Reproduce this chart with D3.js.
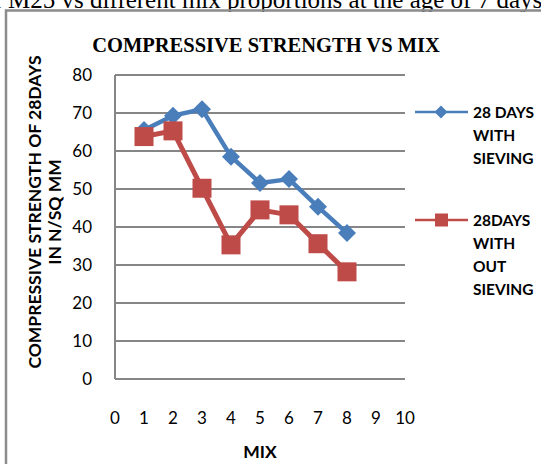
<!DOCTYPE html>
<html><head><meta charset="utf-8">
<script src="https://cdn.jsdelivr.net/npm/d3@7"></script>
<style>body{margin:0;background:#fff}svg{display:block}</style>
</head><body>
<script>
const mix = [1,2,3,4,5,6,7,8];
const withSieving = [65.5,69.3,71,58.5,51.6,52.6,45.3,38.4];
const withoutSieving = [63.8,65.3,50.2,35.3,44.5,43.2,35.6,28.2];
const xTicks = [0,1,2,3,4,5,6,7,8,9,10];
const yTicks = [0,10,20,30,40,50,60,70,80];
const seriesNames = [["28 DAYS","WITH","SIEVING"],["28DAYS","WITH","OUT","SIEVING"]];

const W=541,H=464;
const svg=d3.select("body").append("svg").attr("width",W).attr("height",H);
const sans="Lato, 'Open Sans', sans-serif";

// cropped caption above
svg.append("text").attr("x",-19).attr("y",8).attr("font-family","'Liberation Serif', serif")
  .attr("font-size",25).attr("fill","#000").text("of M25 vs different mix proportions at the age of 7 days");
// frame
svg.append("rect").attr("x",0).attr("y",12).attr("width",W+20).attr("height",H).attr("fill","#fff");
svg.append("path").attr("d",`M6,${H+5}V10.5H${W+5}`).attr("fill","none").attr("stroke","#8c8c8c").attr("stroke-width",2.5);

const x=d3.scaleLinear().domain([0,10]).range([115,405]);
const y=d3.scaleLinear().domain([0,80]).range([379,75]);

// gridlines
svg.append("g").selectAll("line").data(yTicks).join("line")
  .attr("x1",x(0)).attr("x2",x(10)).attr("y1",d=>y(d)).attr("y2",d=>y(d))
  .attr("stroke","#868686").attr("stroke-width",2);
svg.append("line").attr("x1",x(0)).attr("x2",x(0)).attr("y1",y(80)).attr("y2",y(0))
  .attr("stroke","#868686").attr("stroke-width",2);

// y tick labels
svg.append("g").selectAll("text").data(yTicks).join("text")
  .attr("x",92).attr("y",d=>y(d)).attr("dy","0.36em").attr("text-anchor","end")
  .attr("font-family",sans).attr("font-size",17).attr("fill","#000").text(d=>d);
// x tick labels
svg.append("g").selectAll("text").data(xTicks).join("text")
  .attr("x",d=>x(d)).attr("y",418).attr("dy","0.36em").attr("text-anchor","middle")
  .attr("font-family",sans).attr("font-size",17).attr("fill","#000").text(d=>d);

// titles
svg.append("text").attr("x",266).attr("y",52).attr("text-anchor","middle")
  .attr("font-family","'Liberation Serif', serif").attr("font-weight","bold").attr("font-size",20.5)
  .text("COMPRESSIVE STRENGTH VS MIX");
svg.append("text").attr("x",260).attr("y",452).attr("dy","0.36em").attr("text-anchor","middle")
  .attr("font-family",sans).attr("font-weight","bold").attr("font-size",17.5).text("MIX");
const yt=svg.append("text").attr("transform","translate(35,212) rotate(-90)").attr("text-anchor","middle")
  .attr("font-family",sans).attr("font-weight","bold").attr("font-size",17.5);
yt.append("tspan").attr("x",0).attr("y",0).attr("dy","0.36em").text("COMPRESSIVE STRENGTH OF 28DAYS");
yt.append("tspan").attr("x",0).attr("y",20).attr("dy","0.36em").text("IN N/SQ MM");

const blue="#4a7ebb", red="#be4b48";
const line=d3.line().x((d,i)=>x(mix[i])).y(d=>y(d));

// series with sieving
svg.append("path").datum(withSieving).attr("d",line).attr("fill","none").attr("stroke",blue)
  .attr("stroke-width",4.5).attr("stroke-linejoin","round");
svg.append("g").selectAll("path").data(withSieving).join("path")
  .attr("transform",(d,i)=>`translate(${x(mix[i])},${y(d)})`)
  .attr("d","M0,-9L9,0L0,9L-9,0Z").attr("fill",blue);

// series without sieving
svg.append("path").datum(withoutSieving).attr("d",line).attr("fill","none").attr("stroke",red)
  .attr("stroke-width",5).attr("stroke-linejoin","round");
svg.append("g").selectAll("rect").data(withoutSieving).join("rect")
  .attr("x",(d,i)=>x(mix[i])-9.5).attr("y",d=>y(d)-9.5).attr("width",19).attr("height",19).attr("fill",red);

// legend
const lg=[{c:blue,y:112,shape:"d"},{c:red,y:220,shape:"s"}];
lg.forEach((l,k)=>{
  svg.append("line").attr("x1",415).attr("x2",468).attr("y1",l.y).attr("y2",l.y).attr("stroke",l.c).attr("stroke-width",2.5);
  if(l.shape==="d") svg.append("path").attr("transform",`translate(441,${l.y})`).attr("d","M0,-6.5L6.5,0L0,6.5L-6.5,0Z").attr("fill",l.c);
  else svg.append("rect").attr("x",435).attr("y",l.y-6.5).attr("width",13).attr("height",13).attr("fill",l.c);
  svg.append("g").selectAll("text").data(seriesNames[k]).join("text")
    .attr("x",473).attr("y",(d,i)=>l.y+i*23.3).attr("dy","0.36em")
    .attr("font-family",sans).attr("font-weight","bold").attr("font-size",15.5).text(d=>d);
});
</script>
</body></html>
